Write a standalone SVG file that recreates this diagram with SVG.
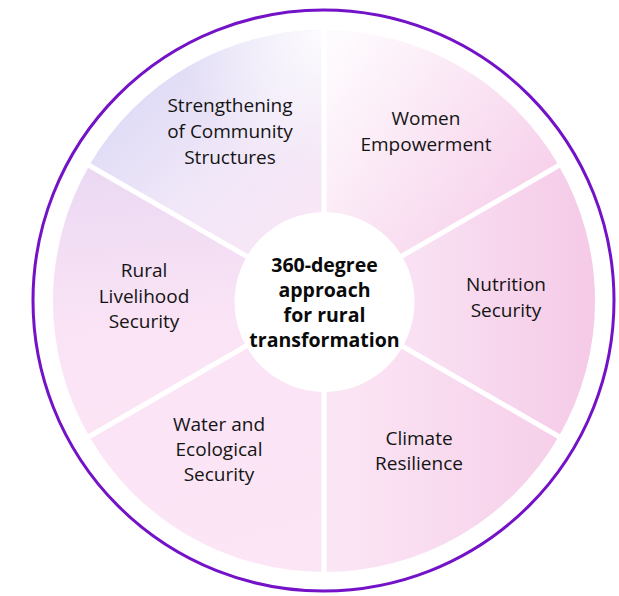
<svg xmlns="http://www.w3.org/2000/svg" width="619" height="596" viewBox="0 0 619 596">
<style>
.lbl{font-family:"Open Sans","Noto Sans",sans-serif;font-size:19px;fill:#141414;text-anchor:middle}
.ctr{font-family:"Open Sans","Noto Sans",sans-serif;font-size:19.5px;font-weight:700;fill:#0a0a0a;text-anchor:middle}
.div{stroke:#ffffff;stroke-width:5;fill:none}
</style>
<defs>
<linearGradient id="gTL" gradientUnits="userSpaceOnUse" x1="150" y1="70" x2="310" y2="240"><stop offset="0" stop-color="#dedbf6"/><stop offset="0.5" stop-color="#f0e7f8"/><stop offset="1" stop-color="#f9e6f5"/></linearGradient>
<radialGradient id="gTop" gradientUnits="userSpaceOnUse" cx="320" cy="30" r="140"><stop offset="0" stop-color="#ffffff" stop-opacity="0.85"/><stop offset="1" stop-color="#ffffff" stop-opacity="0"/></radialGradient>
<linearGradient id="gTR" gradientUnits="userSpaceOnUse" x1="340" y1="40" x2="560" y2="200"><stop offset="0" stop-color="#fefbfe"/><stop offset="1" stop-color="#f6cde9"/></linearGradient>
<linearGradient id="gR" gradientUnits="userSpaceOnUse" x1="415" y1="300" x2="595" y2="300"><stop offset="0" stop-color="#f9e1f3"/><stop offset="1" stop-color="#f5cae7"/></linearGradient>
<linearGradient id="gBR" gradientUnits="userSpaceOnUse" x1="330" y1="450" x2="560" y2="450"><stop offset="0" stop-color="#fbe6f5"/><stop offset="1" stop-color="#f6cfe9"/></linearGradient>
<linearGradient id="gBL" gradientUnits="userSpaceOnUse" x1="200" y1="400" x2="250" y2="570"><stop offset="0" stop-color="#fbe4f5"/><stop offset="1" stop-color="#fce6f6"/></linearGradient>
<linearGradient id="gL" gradientUnits="userSpaceOnUse" x1="100" y1="170" x2="120" y2="430"><stop offset="0" stop-color="#ebd9f3"/><stop offset="0.6" stop-color="#fae3f5"/><stop offset="1" stop-color="#fbe5f5"/></linearGradient>
</defs>
<rect width="619" height="596" fill="#ffffff"/>
<circle cx="323.5" cy="300.5" r="290.5" fill="none" stroke="#7412c8" stroke-width="3"/>
<g id="seg-community">
<path d="M324,301 L89.3,165.5 A271,271 0 0 1 324,30 Z" fill="url(#gTL)"/>
<path d="M324,301 L89.3,165.5 A271,271 0 0 1 324,30 Z" fill="url(#gTop)"/>
<text class="lbl"><tspan x="230" y="111.5">Strengthening</tspan><tspan x="230" y="137.5">of Community</tspan><tspan x="230" y="163.5">Structures</tspan></text>
</g>
<g id="seg-women">
<path d="M324,301 L324,30 A271,271 0 0 1 558.7,165.5 Z" fill="url(#gTR)"/>
<text class="lbl"><tspan x="426" y="125">Women</tspan><tspan x="426" y="151">Empowerment</tspan></text>
</g>
<g id="seg-nutrition">
<path d="M324,301 L558.7,165.5 A271,271 0 0 1 558.7,436.5 Z" fill="url(#gR)"/>
<text class="lbl"><tspan x="506" y="291">Nutrition</tspan><tspan x="506" y="317">Security</tspan></text>
</g>
<g id="seg-climate">
<path d="M324,301 L558.7,436.5 A271,271 0 0 1 324,572 Z" fill="url(#gBR)"/>
<text class="lbl"><tspan x="419" y="445">Climate</tspan><tspan x="419" y="470">Resilience</tspan></text>
</g>
<g id="seg-water">
<path d="M324,301 L324,572 A271,271 0 0 1 89.3,436.5 Z" fill="url(#gBL)"/>
<text class="lbl"><tspan x="219" y="431">Water and</tspan><tspan x="219" y="456">Ecological</tspan><tspan x="219" y="481">Security</tspan></text>
</g>
<g id="seg-livelihood">
<path d="M324,301 L89.3,436.5 A271,271 0 0 1 89.3,165.5 Z" fill="url(#gL)"/>
<text class="lbl"><tspan x="144" y="277">Rural</tspan><tspan x="144" y="303">Livelihood</tspan><tspan x="144" y="328">Security</tspan></text>
</g>
<g id="connectors">
<line class="div" x1="324" y1="301" x2="324" y2="27"/>
<line class="div" x1="324" y1="301" x2="561.3" y2="164"/>
<line class="div" x1="324" y1="301" x2="561.3" y2="438"/>
<line class="div" x1="324" y1="301" x2="324" y2="575"/>
<line class="div" x1="324" y1="301" x2="86.7" y2="438"/>
<line class="div" x1="324" y1="301" x2="86.7" y2="164"/>
</g>
<g id="center">
<circle cx="324.5" cy="302" r="90" fill="#ffffff"/>
<text class="ctr"><tspan x="324.5" y="272">360-degree</tspan><tspan x="324.5" y="297">approach</tspan><tspan x="324.5" y="322">for rural</tspan><tspan x="324.5" y="347">transformation</tspan></text>
</g>
</svg>
